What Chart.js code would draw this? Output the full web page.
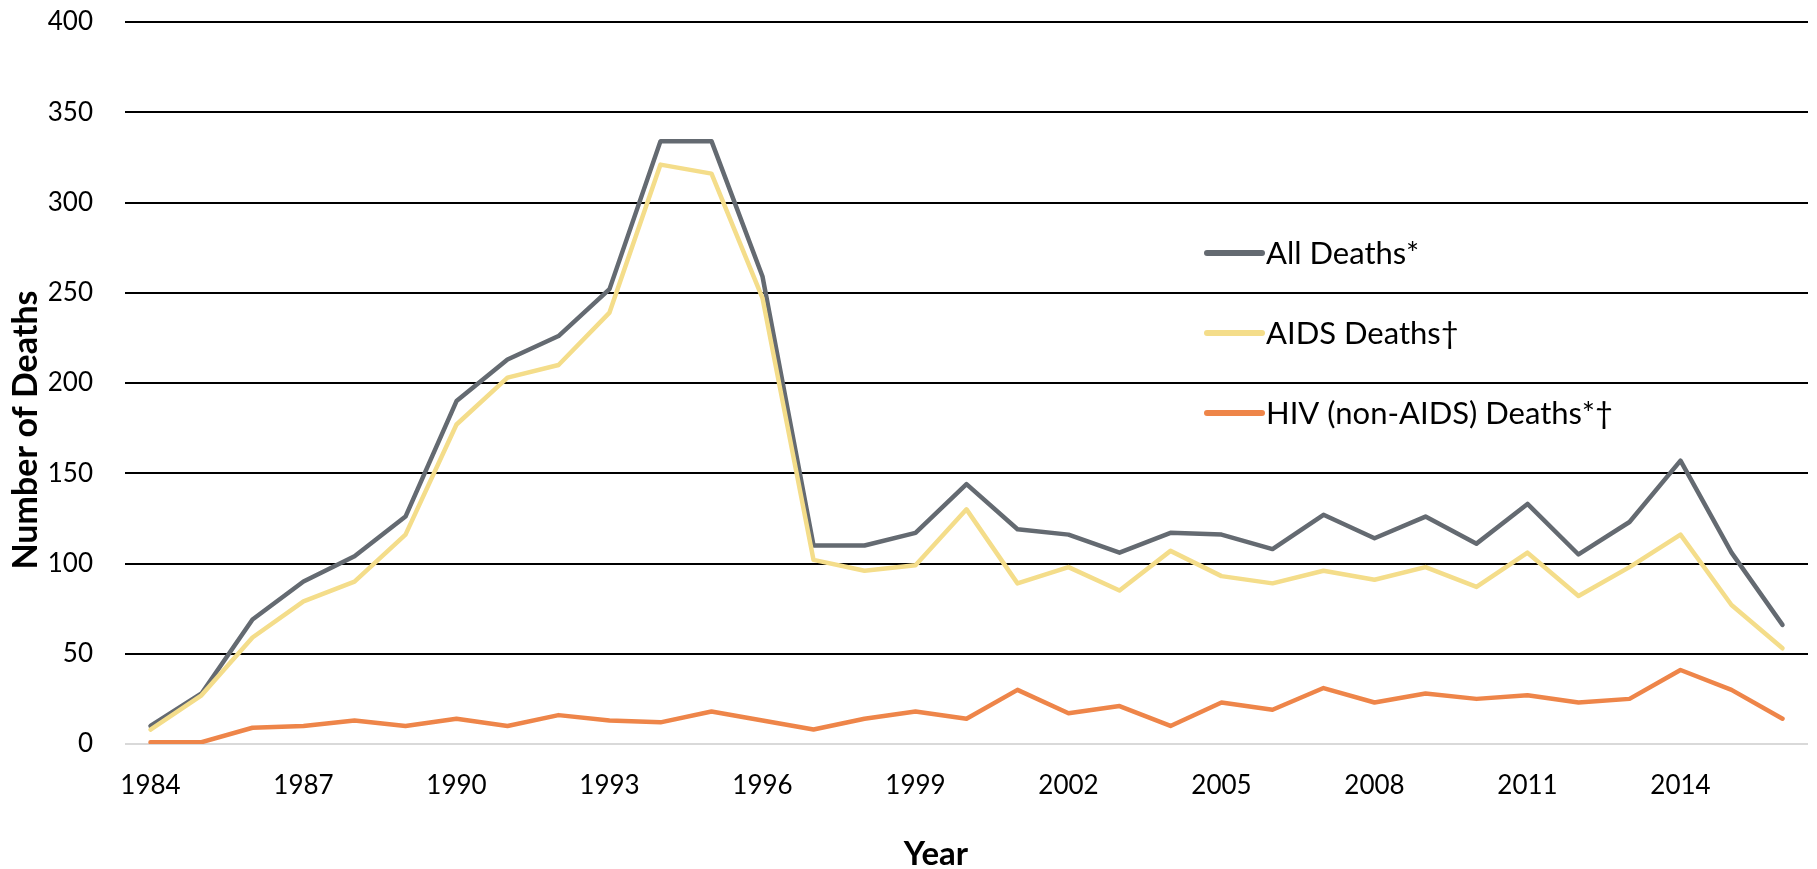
<!DOCTYPE html>
<html>
<head>
<meta charset="utf-8">
<script src="https://cdn.jsdelivr.net/npm/chart.js@4/dist/chart.umd.min.js"></script>
<style>
  html, body { margin: 0; padding: 0; background: #fff; }
  #wrap { width: 1817px; height: 869px; position: relative; }
</style>
</head>
<body>
<div id="wrap"><canvas id="grafico" width="1817" height="869"></canvas></div>
<script>
const anos = [];
for (let a = 1984; a <= 2016; a++) anos.push(String(a));

const todasMortes = [10, 28, 69, 90, 104, 126, 190, 213, 226, 252, 334, 334, 259,
  110, 110, 117, 144, 119, 116, 106, 117, 116, 108, 127, 114, 126, 111, 133, 105, 123, 157, 106, 66];
const mortesAids = [8, 27, 59, 79, 90, 116, 177, 203, 210, 239, 321, 316, 247,
  102, 96, 99, 130, 89, 98, 85, 107, 93, 89, 96, 91, 98, 87, 106, 82, 98, 116, 77, 53];
const mortesHiv = [1, 1, 9, 10, 13, 10, 14, 10, 16, 13, 12, 18, 13,
  8, 14, 18, 14, 30, 17, 21, 10, 23, 19, 31, 23, 28, 25, 27, 23, 25, 41, 30, 14];

const rotulosSeries = ["All Deaths*", "AIDS Deaths\u2020", "HIV (non-AIDS) Deaths*\u2020"];
const cores = ['#646a71', '#f4dd8a', '#ee8549'];
const tituloX = 'Year';
const tituloY = 'Number of Deaths';

const fonte = "Lato, 'Open Sans', sans-serif";

// legenda e titulos dos eixos desenhados a mao (posicoes do original)
const legendaInterna = {
  id: 'legendaInterna',
  afterDatasetsDraw(chart) {
    const ctx = chart.ctx;
    const x0 = 1207, comp = 55, ys = [253, 333, 413];
    ctx.save();
    chart.data.datasets.forEach((ds, i) => {
      ctx.strokeStyle = ds.borderColor;
      ctx.lineWidth = 6;
      ctx.lineCap = 'round';
      ctx.beginPath();
      ctx.moveTo(x0, ys[i]);
      ctx.lineTo(x0 + comp, ys[i]);
      ctx.stroke();
      ctx.fillStyle = '#000';
      ctx.font = "31px " + fonte;
      ctx.textBaseline = 'middle';
      ctx.textAlign = 'left';
      ctx.fillText(ds.label, x0 + comp + 4, ys[i] + 1);
    });

    ctx.fillStyle = '#000';
    ctx.textAlign = 'center';
    ctx.textBaseline = 'middle';
    ctx.font = "bold 33px " + fonte;
    ctx.fillText(tituloX, 936, 854);

    ctx.translate(26, 430);
    ctx.rotate(-Math.PI / 2);
    ctx.font = "bold 34px " + fonte;
    ctx.fillText(tituloY, 0, 0);
    ctx.restore();
  }
};

const series = [todasMortes, mortesAids, mortesHiv];

new Chart(document.getElementById('grafico'), {
  type: 'line',
  data: {
    labels: anos,
    datasets: series.map((dados, i) => ({
      label: rotulosSeries[i],
      data: dados,
      borderColor: cores[i],
      backgroundColor: cores[i],
      borderWidth: 4.5,
      pointRadius: 0,
      fill: false,
      tension: 0,
      borderJoinStyle: 'round',
      borderCapStyle: 'round',
      order: 3 - i
    }))
  },
  options: {
    responsive: false,
    animation: false,
    layout: { padding: { top: 22, right: 9, left: 0, bottom: 0 } },
    plugins: {
      legend: { display: false },
      tooltip: { enabled: false }
    },
    scales: {
      x: {
        type: 'category',
        offset: true,
        grid: { display: false },
        border: { display: false },
        ticks: {
          autoSkip: false,
          maxRotation: 0,
          padding: 18,
          color: '#000',
          font: { family: fonte, size: 26 },
          callback: (v, i) => (i % 3 === 0 ? anos[i] : '')
        },
        afterFit: s => { s.height = 125; s.paddingLeft = 0; s.paddingRight = 0; }
      },
      y: {
        min: 0,
        max: 400,
        grid: {
          drawTicks: false,
          lineWidth: 2,
          color: c => (c.tick && c.tick.value === 0 ? '#d9d9d9' : '#000')
        },
        border: { display: false },
        ticks: {
          stepSize: 50,
          padding: 32,
          color: '#000',
          font: { family: fonte, size: 26 }
        },
        afterFit: s => { s.width = 125; s.paddingTop = 0; s.paddingBottom = 0; }
      }
    }
  },
  plugins: [legendaInterna]
});
</script>
</body>
</html>
